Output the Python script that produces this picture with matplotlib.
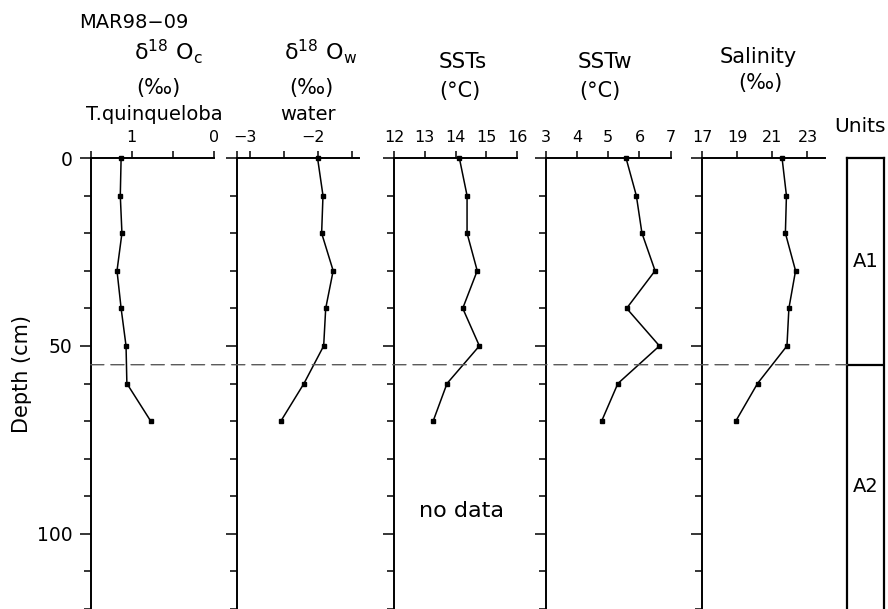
import matplotlib
matplotlib.use('Agg')
import matplotlib.pyplot as plt
from matplotlib.ticker import MultipleLocator
from matplotlib.patches import ConnectionPatch
from matplotlib.transforms import ScaledTranslation

plt.rcParams['font.family'] = ['DejaVu Sans']
plt.rcParams['mathtext.fontset'] = 'dejavusans'

# ---------------- data ----------------
depth = [0, 10, 20, 30, 40, 50, 60, 70]
d18o_c = [1.13, 1.14, 1.12, 1.18, 1.13, 1.07, 1.06, 0.77]
d18o_w = [-2.01, -1.93, -1.95, -1.78, -1.89, -1.92, -2.21, -2.55]
sst_s = [14.12, 14.37, 14.37, 14.70, 14.23, 14.77, 13.72, 13.27]
sst_w = [5.57, 5.90, 6.08, 6.50, 5.59, 6.64, 5.31, 4.79]
salinity = [21.55, 21.80, 21.74, 22.32, 21.94, 21.83, 20.15, 18.91]

xticks_c = [1.5, 1, 0.5, 0]
xlabels_c = ['', '1', '', '0']
xticks_w = [-3.2, -3, -2.5, -2, -1.5]
xlabels_w = ['', '\u22123', '', '\u22122', '']
xticks_s = [12, 13, 14, 15, 16]
xticks_sw = [3, 4, 5, 6, 7]
xticks_sal = [17, 19, 21, 23]
depth_ticks = [0, 50, 100]
depth_max = 120
boundary_depth = 55
unit_names = ['A1', 'A2']

# ---------------- layout ----------------
W, H = 888, 609
fig = plt.figure(figsize=(W / 100, H / 100), dpi=100)
top_px = 158


def add_ax(x0, x1):
    return fig.add_axes([x0 / W, 0, (x1 - x0) / W, (H - top_px) / H])


def ftext(x, y, s, **kw):
    kw.setdefault('ha', 'center')
    kw.setdefault('va', 'center')
    return fig.text(x / W, 1 - y / H, s, **kw)


panels = [
    (90.7, 214, (1.5, 0), xticks_c, xlabels_c, d18o_c),
    (236.7, 359, (-3.2, -1.4), xticks_w, xlabels_w, d18o_w),
    (394, 517.3, (12, 16), xticks_s, [str(v) for v in xticks_s], sst_s),
    (545.7, 670.7, (3, 7), xticks_sw, [str(v) for v in xticks_sw], sst_w),
    (702.3, 825, (17, 24), xticks_sal, [str(v) for v in xticks_sal], salinity),
]

axes = []
for i, (x0, x1, xl, xt, xlab, vals) in enumerate(panels):
    ax = add_ax(x0, x1)
    ax.set_ylim(depth_max, 0)
    ax.set_xlim(*xl)
    for s in ('right', 'bottom'):
        ax.spines[s].set_visible(False)
    for s in ('top', 'left'):
        ax.spines[s].set_linewidth(1.4)
    ax.xaxis.tick_top()
    ax.set_xticks(xt)
    ax.set_xticklabels(xlab, fontsize=11.5)
    ax.tick_params(axis='x', which='major', direction='out', length=4.7,
                   width=1.1, pad=5.0)
    ax.set_yticks(depth_ticks)
    ax.yaxis.set_minor_locator(MultipleLocator(10))
    ax.tick_params(axis='y', which='major', length=8, width=1.1, pad=5,
                   labelsize=13.5, labelleft=(i == 0))
    ax.tick_params(axis='y', which='minor', length=5, width=1.1)
    ax.plot(vals, depth, color='black', lw=1.1, marker='s', ms=3.2,
            clip_on=False, zorder=3)
    ax.patch.set_visible(False)
    axes.append(ax)

# units column
axu = add_ax(847.3, 884.3)
axu.set_ylim(depth_max, 0)
axu.set_xlim(0, 1)
axu.set_xticks([])
axu.set_yticks([])
axu.spines['bottom'].set_visible(False)
for s in ('top', 'left', 'right'):
    axu.spines[s].set_linewidth(1.6)
axu.axhline(boundary_depth, color='black', lw=1.6)
bounds = [0, boundary_depth, depth_max]
for k, name in enumerate(unit_names):
    axu.text(0.5, (bounds[k] + bounds[k + 1]) / 2, name, ha='center',
             va='center', fontsize=14)

# dashed boundary line across the panels
con = ConnectionPatch(xyA=(axes[0].get_xlim()[0], boundary_depth),
                      coordsA=axes[0].transData,
                      xyB=(0, boundary_depth),
                      coordsB=axu.get_yaxis_transform(),
                      color='0.35', lw=1.0, linestyle=(0, (9.5, 5)))
fig.add_artist(con)

# shift minus-sign labels so the digit sits over its tick
ax2 = axes[1]
for t in ax2.xaxis.get_major_ticks():
    lab = t.label2
    lab.set_transform(lab.get_transform() +
                      ScaledTranslation(-5 / 100, 0, fig.dpi_scale_trans))

# no data note
axes[2].text(14.2, 94, 'no data', ha='center', va='center', fontsize=16)

# headers
ftext(79, 22, 'MAR98\u221209', ha='left', fontsize=14)
ftext(168, 52, '\u03b4$^{18}$ O$_\\mathrm{c}$', fontsize=16)
ftext(158, 88, '(\u2030)', fontsize=15)
ftext(154, 114, 'T.quinqueloba', fontsize=14)
ftext(321, 52, '\u03b4$^{18}$ O$_\\mathrm{w}$', fontsize=16)
ftext(311, 88, '(\u2030)', fontsize=15)
ftext(308, 114, 'water', fontsize=14)
ftext(463, 62, 'SSTs', fontsize=15.5)
ftext(460, 91, '(\u00b0C)', fontsize=15)
ftext(605, 62, 'SSTw', fontsize=15.5)
ftext(600, 91, '(\u00b0C)', fontsize=15)
ftext(758, 57, 'Salinity', fontsize=15)
ftext(760, 83, '(\u2030)', fontsize=15)
ftext(860, 127, 'Units', fontsize=14.5)
ftext(22, 374, 'Depth (cm)', rotation=90, fontsize=15)

fig.savefig('out.png', dpi=100)
